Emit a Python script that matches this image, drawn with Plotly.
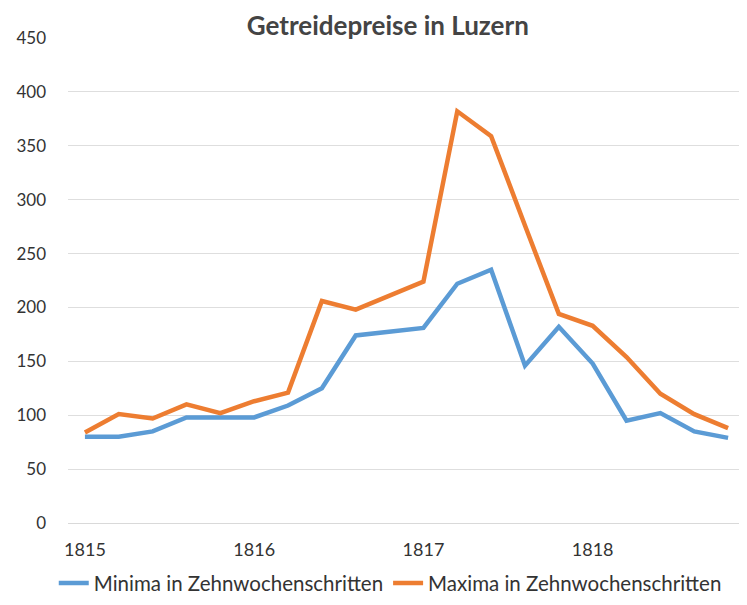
import plotly.graph_objects as go

tick_labels = ["1815", "1816", "1817", "1818"]
tick_positions = [0, 5, 10, 15]
steps = list(range(20))
minima = [80, 80, 85, 98, 98, 98, 109, 125, 174, 177, 181, 222, 235, 146, 182, 148, 95, 102, 85, 79]
maxima = [84, 101, 97, 110, 102, 113, 121, 206, 198, 211, 224, 382, 359, 276, 194, 183, 154, 120, 101, 88]

font_family = "Lato, Open Sans, sans-serif"

fig = go.Figure()
fig.add_trace(go.Scatter(x=steps, y=minima, mode="lines", name="Minima in Zehnwochenschritten",
                         line=dict(color="#5B9BD5", width=4.5)))
fig.add_trace(go.Scatter(x=steps, y=maxima, mode="lines", name="Maxima in Zehnwochenschritten",
                         line=dict(color="#ED7D31", width=4.5)))

fig.update_layout(
    width=739, height=597,
    paper_bgcolor="white", plot_bgcolor="white",
    margin=dict(l=60, r=2, t=30, b=82),
    title=dict(text="<b>Getreidepreise in Luzern</b>", x=0.514, xanchor="center",
               y=0.985, yanchor="top",
               font=dict(family=font_family, size=26, color="#444444")),
    font=dict(family=font_family, size=17, color="#333333"),
    showlegend=True,
    legend=dict(orientation="h", x=0.476, xanchor="center", y=-0.124, yanchor="middle",
                font=dict(size=20.5, color="#333333"), itemwidth=30, traceorder="normal"),
    xaxis=dict(range=[-0.5, 19.5], tickmode="array", tickvals=tick_positions, ticktext=tick_labels,
               showgrid=False, showline=True, linecolor="#d9d9d9", linewidth=1, ticks="",
               zeroline=False, ticklabelstandoff=10, tickfont=dict(size=18, color="#333333")),
    yaxis=dict(range=[0, 450], dtick=50, showgrid=True, gridcolor="#dedede", gridwidth=1,
               zeroline=False, showline=False, ticks="", ticklabelstandoff=21,
               tickfont=dict(size=17, color="#333333")),
)

fig.write_html("out.html")
